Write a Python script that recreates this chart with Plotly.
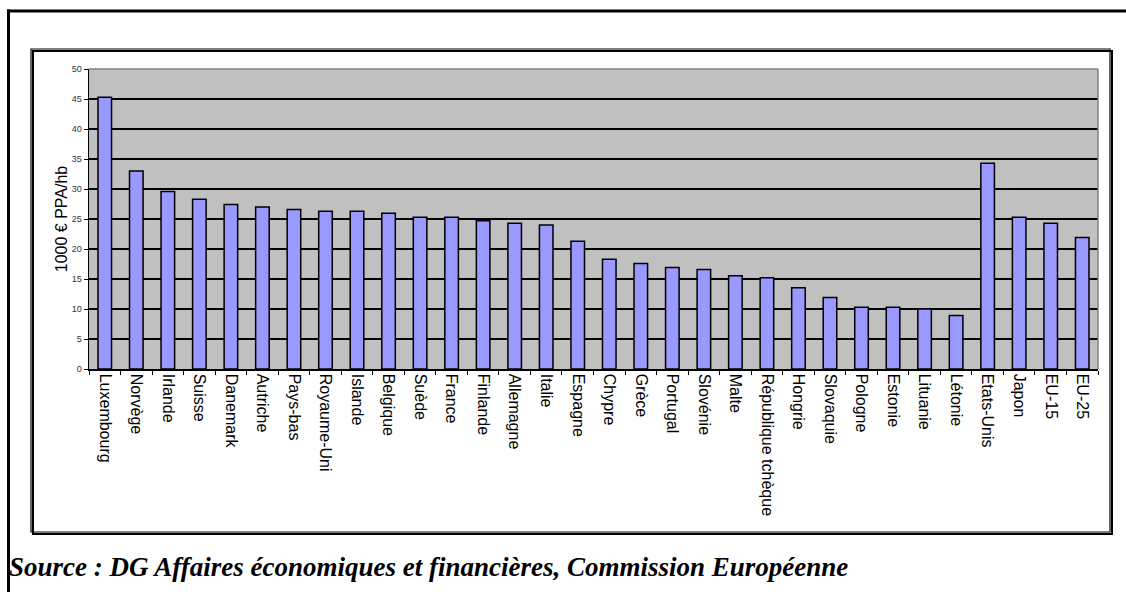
import plotly.graph_objects as go

countries = ["Luxembourg", "Norvège", "Irlande", "Suisse", "Danemark", "Autriche",
             "Pays-bas", "Royaume-Uni", "Islande", "Belgique", "Suède", "France",
             "Finlande", "Allemagne", "Italie", "Espagne", "Chypre", "Grèce",
             "Portugal", "Slovénie", "Malte", "République tchèque", "Hongrie",
             "Slovaquie", "Pologne", "Estonie", "Lituanie", "Létonie", "Etats-Unis",
             "Japon", "EU-15", "EU-25"]
values = [45.3, 33.0, 29.6, 28.3, 27.4, 27.0, 26.6, 26.3, 26.3, 25.95, 25.3, 25.3,
          24.7, 24.3, 24.0, 21.3, 18.3, 17.6, 16.9, 16.6, 15.55, 15.2, 13.55,
          11.9, 10.3, 10.3, 10.0, 8.9, 34.3, 25.3, 24.3, 21.9]
y_ticks = list(range(0, 55, 5))
y_title = "1000 € PPA/hb"
source = "Source : DG Affaires économiques et financières, Commission Européenne"

W, H = 1126, 592
L, R, T, B = 89, 1098, 69, 369

def px(x):
    return (x - L) / (R - L)

def py(y):
    return (B - y) / (B - T)

fig = go.Figure(go.Bar(
    x=countries, y=values, width=0.43,
    marker=dict(color="#9999FF", line=dict(color="black", width=1.5)),
))

shapes = [
    # outer frame (filled strips, no line caps)
    dict(type="rect", x0=px(7), x1=px(1126), y0=py(9.5), y1=py(12.5),
         line=dict(width=0), fillcolor="black"),
    dict(type="rect", x0=px(7), x1=px(10), y0=py(9.5), y1=py(592),
         line=dict(width=0), fillcolor="black"),
    # inner chart frame shadow
    dict(type="rect", x0=px(33), x1=px(1112), y0=py(51), y1=py(534),
         line=dict(color="black", width=2)),
    dict(type="rect", x0=px(31), x1=px(1110), y0=py(49), y1=py(532),
         line=dict(color="black", width=1.2), fillcolor="rgba(0,0,0,0)"),
    # plot area border top / right (gray)
    dict(type="line", x0=px(89), x1=px(1098), y0=py(69), y1=py(69),
         line=dict(color="#808080", width=1.5)),
    dict(type="line", x0=px(1098), x1=px(1098), y0=py(69), y1=py(369),
         line=dict(color="#808080", width=1.5)),
]
for s in shapes:
    s.update(xref="paper", yref="paper")

fig.update_layout(
    width=W, height=H,
    margin=dict(l=L, r=W - R, t=T, b=H - B),
    paper_bgcolor="white",
    plot_bgcolor="#C0C0C0",
    showlegend=False,
    bargap=0.5,
    font=dict(family="Liberation Sans, Arial", color="black"),
    shapes=shapes,
    annotations=[dict(
        text=f"<b><i>{source}</i></b>", xref="paper", yref="paper",
        x=px(7), y=py(584), xanchor="left", yanchor="bottom", showarrow=False,
        font=dict(family="Liberation Serif, Times New Roman", size=27, color="black"),
    )],
)
fig.update_xaxes(
    type="category", tickangle=90, tickson="boundaries", ticks="outside",
    ticklen=4, tickcolor="black", showline=True, linecolor="black", linewidth=1.5,
    tickfont=dict(size=16, family="Liberation Sans, Arial", color="black"),
    showgrid=False,
)
fig.update_yaxes(
    range=[0, 50], tickvals=y_ticks, ticks="outside", ticklen=4, tickcolor="black",
    showline=True, linecolor="black", linewidth=1.5,
    showgrid=True, gridcolor="black", gridwidth=1.5, zeroline=False,
    tickfont=dict(size=9, family="Liberation Sans, Arial", color="#333333"),
    title=dict(text=y_title, font=dict(size=16, family="Liberation Sans, Arial"), standoff=0),
)
fig.write_html(
    "out.html", config={"displayModeBar": False, "staticPlot": True},
    post_script=(
        "var st=document.createElement('style');"
        "st.textContent='html,body{margin:0;padding:0;overflow:hidden;scrollbar-width:none;}"
        "::-webkit-scrollbar{display:none;}';"
        "document.head.appendChild(st);"
    ),
)
